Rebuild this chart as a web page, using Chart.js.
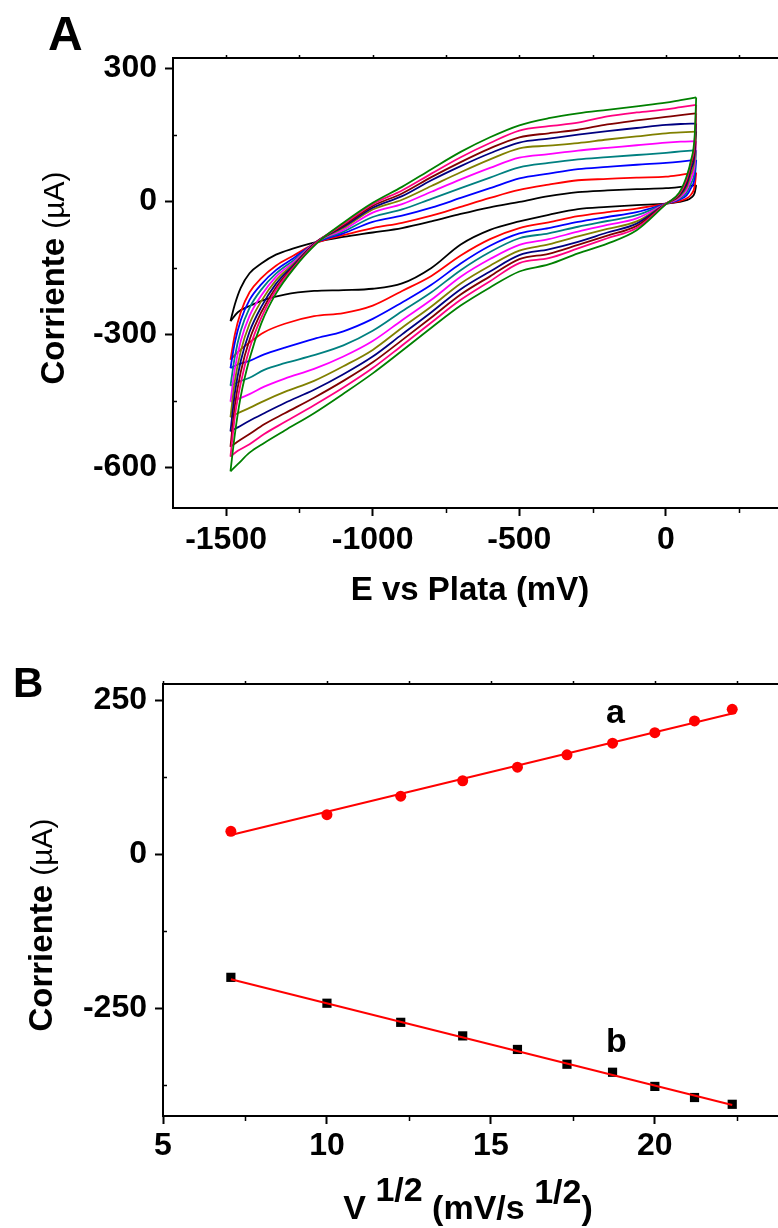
<!DOCTYPE html>
<html lang="es">
<head>
<meta charset="UTF-8">
<title>Corriente vs potencial</title>
<script src="https://cdn.jsdelivr.net/npm/chart.js"></script>
<style>
  html, body { margin: 0; padding: 0; background: #fff; width: 778px; height: 1228px; overflow: hidden; }
  .panel { position: absolute; left: 0; }
  #panelA { top: 0; }
  #panelB { top: 615px; }
</style>
</head>
<body>

<div class="panel" id="panelA"><canvas id="cvChart" width="800" height="615"></canvas></div>
<div class="panel" id="panelB"><canvas id="peakChart" width="800" height="613"></canvas></div>

<script>
// ---------- Panel A: voltamperogramas (E en mV, I en µA) ----------
const potentialForward = [-1485, -1470, -1450, -1420, -1380, -1330, -1270, -1190, -1100, -1000, -900, -800, -700, -600, -500, -400, -300, -200, -100, 0, 50, 103];
const potentialReverse = [-1485, -1460, -1420, -1370, -1300, -1200, -1100, -1000, -900, -800, -700, -600, -500, -400, -300, -200, -100, 0, 45, 70, 85, 98, 103];

const scanColors = ['#000000', '#ff0000', '#0000ff', '#008080', '#ff00ff', '#808000', '#000080', '#800000', '#ff0080', '#008000'];

// barrido hacia potenciales positivos
const forwardCurrent = [
  [-270, -232, -195, -162, -140, -120, -106, -91, -80, -70, -60, -45, -28, -13, -1, 12, 21, 25, 28, 30, 33, 37],
  [-357, -300, -250, -205, -173, -145, -122, -93, -76, -60, -48, -32, -12, 8, 26, 38, 48, 51, 54, 56, 60, 65],
  [-376, -318, -268, -222, -187, -155, -128, -92, -72, -46, -32, -14, 8, 30, 52, 63, 73, 78, 83, 87, 90, 94],
  [-416, -350, -292, -240, -199, -163, -133, -91, -68, -35, -18, 6, 30, 54, 77, 87, 95, 100, 105, 110, 113, 116],
  [-452, -378, -315, -258, -212, -170, -137, -90, -64, -25, -6, 22, 50, 76, 99, 107, 115, 121, 127, 133, 135, 136],
  [-487, -405, -338, -276, -225, -178, -141, -90, -60, -18, 4, 35, 66, 95, 120, 126, 132, 140, 147, 154, 156, 158],
  [-519, -432, -360, -294, -238, -186, -144, -90, -57, -14, 12, 48, 80, 109, 133, 142, 151, 159, 166, 173, 175, 176],
  [-554, -460, -385, -312, -250, -194, -147, -91, -54, -10, 18, 55, 89, 120, 145, 154, 162, 174, 183, 191, 195, 199],
  [-576, -485, -410, -332, -262, -200, -149, -92, -51, -6, 25, 63, 100, 132, 160, 170, 178, 192, 201, 208, 213, 218],
  [-609, -525, -440, -355, -275, -208, -152, -94, -48, -3, 33, 73, 112, 145, 172, 188, 199, 207, 215, 223, 229, 235]
];

// barrido de regreso (mismo orden de potenciales crecientes)
const reverseCurrent = [
  [-270, -250, -236, -222, -210, -202, -200, -197, -185, -150, -97, -64, -45, -30, -17, -12, -8, -5, -1, 3, 8, 20, 37],
  [-357, -340, -318, -295, -276, -259, -252, -235, -202, -168, -122, -85, -60, -47, -33, -24, -16, -5, 1, 7, 15, 35, 65],
  [-376, -368, -360, -345, -330, -310, -293, -265, -228, -188, -140, -100, -72, -60, -46, -35, -24, -5, 4, 14, 30, 55, 94],
  [-416, -408, -398, -380, -365, -347, -325, -292, -248, -205, -155, -114, -83, -72, -57, -44, -31, -5, 6, 20, 40, 70, 116],
  [-452, -446, -435, -418, -400, -378, -350, -315, -268, -222, -170, -130, -98, -85, -68, -53, -38, -5, 8, 26, 50, 85, 136],
  [-487, -478, -466, -450, -430, -405, -372, -335, -285, -237, -185, -145, -111, -97, -79, -62, -45, -5, 11, 32, 62, 100, 158],
  [-519, -510, -495, -478, -455, -425, -390, -350, -300, -250, -198, -158, -121, -108, -91, -70, -50, -5, 13, 38, 72, 112, 176],
  [-554, -542, -525, -503, -478, -443, -405, -363, -313, -262, -210, -169, -130, -118, -98, -77, -55, -5, 15, 45, 82, 125, 199],
  [-576, -563, -548, -525, -498, -460, -420, -376, -325, -273, -222, -180, -139, -128, -106, -83, -60, -5, 17, 50, 88, 138, 218],
  [-609, -593, -567, -545, -517, -478, -434, -388, -337, -285, -235, -194, -158, -142, -117, -95, -65, -6, 20, 56, 92, 150, 235]
];

const ticksE = [-1500, -1000, -500, 0];
const ticksCurrentA = [-600, -300, 0, 300];

// ---------- Panel B: corriente de pico vs raiz de la velocidad ----------
const sqrtRate = [7.07, 10.0, 12.25, 14.14, 15.81, 17.32, 18.71, 20.0, 21.21, 22.36];
const anodicPeak = [37, 64, 94, 119, 141, 161, 180, 197, 216, 235];
const cathodicPeak = [-200, -242, -273, -295, -317, -341, -354, -377, -395, -406];
const fitX = [7.07, 22.36];
const fitAnodic = [31, 228];
const fitCathodic = [-203, -407];

const ticksRate = [5, 10, 15, 20];
const ticksCurrentB = [-250, 0, 250];

const FONT = '"Liberation Sans", Arial, Helvetica, sans-serif';

function pts(xs, ys) {
  return xs.map((x, i) => ({ x: x, y: ys[i] }));
}

function minorValues(scale) {
  const t = scale.ticks.map(k => k.value);
  if (t.length < 2) return [];
  const step = t[1] - t[0];
  const out = [t[0] - step / 2];
  t.forEach(v => out.push(v + step / 2));
  return out.filter(v => v > scale.min && v < scale.max);
}

// text made of pieces (bold / normal / superscript), centred at x,y
function drawPieces(ctx, pieces, x, y, angle) {
  ctx.save();
  ctx.translate(x, y);
  ctx.rotate(angle || 0);
  ctx.fillStyle = '#000';
  ctx.textAlign = 'left';
  ctx.textBaseline = 'alphabetic';
  let total = 0;
  pieces.forEach(p => { ctx.font = p.font; p.w = ctx.measureText(p.text).width; total += p.w; });
  let cx = -total / 2;
  pieces.forEach(p => {
    ctx.font = p.font;
    ctx.fillText(p.text, cx, -(p.rise || 0));
    cx += p.w;
  });
  ctx.restore();
}

// box + minor ticks
const framePlugin = {
  id: 'frame',
  afterDraw(chart) {
    const { ctx, chartArea: a, scales } = chart;
    const x = scales.x, y = scales.y;
    ctx.save();
    ctx.strokeStyle = '#000';
    ctx.lineWidth = 2;
    ctx.beginPath();
    ctx.moveTo(a.left - 1, a.top);
    ctx.lineTo(a.right, a.top);
    ctx.lineTo(a.right, a.bottom);
    ctx.stroke();

    ctx.lineWidth = 1.5;
    ctx.beginPath();
    const xm = minorValues(x);
    xm.forEach(v => {
      const px = Math.round(x.getPixelForValue(v)) + 0.5;
      ctx.moveTo(px, a.bottom); ctx.lineTo(px, a.bottom + 5);
    });
    xm.concat(x.ticks.map(k => k.value)).forEach(v => {
      const px = Math.round(x.getPixelForValue(v)) + 0.5;
      ctx.moveTo(px, a.top); ctx.lineTo(px, a.top - 3);
    });
    minorValues(y).forEach(v => {
      const py = Math.round(y.getPixelForValue(v)) + 0.5;
      ctx.moveTo(a.left, py); ctx.lineTo(a.left + 4, py);
    });
    ctx.stroke();
    ctx.restore();
  }
};

function axisOptions(min, max, tickValues, fixedSize, isX, pad) {
  return {
    type: 'linear',
    min: min,
    max: max,
    afterBuildTicks(scale) {
      scale.ticks = tickValues.map(v => ({ value: v }));
    },
    ticks: {
      color: '#000',
      padding: pad,
      autoSkip: false,
      maxRotation: 0,
      callback: v => String(v),
      font: { family: FONT, size: 32, weight: 'bold' }
    },
    grid: { drawOnChartArea: false, drawTicks: true, tickLength: 8, tickWidth: 2, tickColor: '#000' },
    border: { display: true, color: '#000', width: 2 },
    afterFit(scale) {
      if (isX) scale.height = fixedSize; else scale.width = fixedSize;
    }
  };
}

// ---------- chart A ----------
const cvDatasets = [];
for (let i = scanColors.length - 1; i >= 0; i--) {
  [[potentialForward, forwardCurrent[i]], [potentialReverse, reverseCurrent[i]]].forEach(pair => {
    cvDatasets.push({
      data: pts(pair[0], pair[1]),
      showLine: true,
      borderColor: scanColors[i],
      borderWidth: 1.8,
      pointRadius: 0,
      cubicInterpolationMode: 'monotone',
      fill: false
    });
  });
}

new Chart(document.getElementById('cvChart'), {
  type: 'scatter',
  data: { datasets: cvDatasets },
  options: {
    responsive: false,
    animation: false,
    layout: { padding: { left: 0, top: 58, right: 17, bottom: 0 } },
    plugins: { legend: { display: false }, tooltip: { enabled: false } },
    scales: {
      x: axisOptions(-1681, 399, ticksE, 107, true, 5),
      y: axisOptions(-692, 324, ticksCurrentA, 173, false, 8)
    }
  },
  plugins: [framePlugin, {
    id: 'labelsA',
    afterDraw(chart) {
      const ctx = chart.ctx;
      ctx.save();
      ctx.fillStyle = '#000';
      ctx.font = 'bold 48px ' + FONT;
      ctx.textBaseline = 'alphabetic';
      ctx.fillText('A', 48, 50);
      ctx.restore();
      drawPieces(ctx, [{ text: 'E vs Plata (mV)', font: 'bold 33px ' + FONT }], 470, 600, 0);
      drawPieces(ctx, [
        { text: 'Corriente ', font: 'bold 33px ' + FONT },
        { text: '(\u00b5A)', font: '30px ' + FONT }
      ], 64, 278, -Math.PI / 2);
    }
  }]
});

// ---------- chart B ----------
new Chart(document.getElementById('peakChart'), {
  type: 'scatter',
  data: {
    datasets: [
      { data: pts(fitX, fitAnodic), showLine: true, borderColor: '#ff0000', borderWidth: 2, pointRadius: 0 },
      { data: pts(fitX, fitCathodic), showLine: true, borderColor: '#ff0000', borderWidth: 2, pointRadius: 0 },
      { data: pts(sqrtRate, anodicPeak), showLine: false, pointStyle: 'circle', pointRadius: 5.5,
        backgroundColor: '#ff0000', borderColor: '#ff0000', borderWidth: 0 },
      { data: pts(sqrtRate, cathodicPeak), showLine: false, pointStyle: 'rect', pointRadius: 6.5,
        backgroundColor: '#000000', borderColor: '#000000', borderWidth: 0 }
    ]
  },
  options: {
    responsive: false,
    animation: false,
    layout: { padding: { left: 0, top: 69, right: 14, bottom: 0 } },
    plugins: { legend: { display: false }, tooltip: { enabled: false } },
    scales: {
      x: axisOptions(5, 24, ticksRate, 112, true, 3),
      y: axisOptions(-425, 276, ticksCurrentB, 163, false, 8)
    }
  },
  plugins: [framePlugin, {
    id: 'labelsB',
    afterDraw(chart) {
      const ctx = chart.ctx;
      ctx.save();
      ctx.fillStyle = '#000';
      ctx.textBaseline = 'alphabetic';
      ctx.font = 'bold 42px ' + FONT;
      ctx.fillText('B', 13, 82);
      ctx.font = 'bold 34px ' + FONT;
      ctx.fillText('a', 606, 108);
      ctx.fillText('b', 606, 437);
      ctx.restore();
      const f = 'bold 34px ' + FONT;
      drawPieces(ctx, [
        { text: 'V ', font: f },
        { text: '1/2', font: f, rise: 18 },
        { text: ' (mV/s ', font: f },
        { text: '1/2', font: f, rise: 16 },
        { text: ')', font: f }
      ], 468, 604, 0);
      drawPieces(ctx, [
        { text: 'Corriente ', font: 'bold 33px ' + FONT },
        { text: '(\u00b5A)', font: '30px ' + FONT }
      ], 52, 310, -Math.PI / 2);
    }
  }]
});
</script>
</body>
</html>
